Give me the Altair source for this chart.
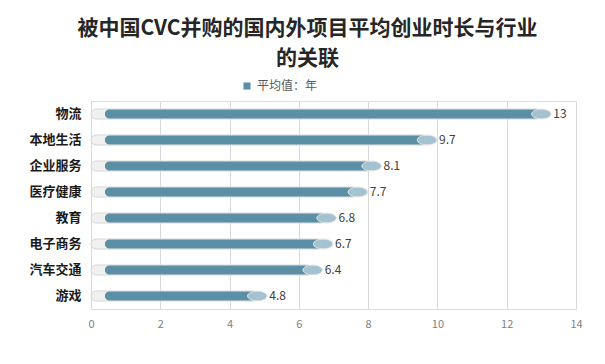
import altair as alt
import pandas as pd

categories = ["物流", "本地生活", "企业服务", "医疗健康", "教育", "电子商务", "汽车交通", "游戏"]
values = [13, 9.7, 8.1, 7.7, 6.8, 6.7, 6.4, 4.8]
series_name = "平均值：年"
x_ticks = [0, 2, 4, 6, 8, 10, 12, 14]

df = pd.DataFrame({"cat": categories, "val": values})
df["series"] = series_name
df["start"] = 0.4
df["zero"] = 0

FONT = "Noto Sans CJK SC"

y_enc = alt.Y("cat:N", sort=categories, title=None,
              axis=alt.Axis(labelFont=FONT, labelFontSize=13, labelFontWeight="bold",
                            labelColor="#1a1a1a", ticks=False, domain=False, labelPadding=10))
x_scale = alt.Scale(domain=[0, 14], nice=False)
x_axis = alt.Axis(values=x_ticks, grid=True, gridColor="#D9D9D9", ticks=False, domain=False,
                  labelColor="#7F7F7F", labelFontSize=11, labelPadding=9, title=None,
                  labelFont=FONT, labelFlush=False)

base = alt.Chart(df)

bg = base.mark_bar(height=10, cornerRadius=5, color="#F0F0F0", stroke="#D6D6D6",
                   strokeWidth=1).encode(
    x=alt.X("zero:Q", scale=x_scale, axis=x_axis), x2="val:Q", y=y_enc)

bar = base.mark_bar(height=9, cornerRadius=4.5).encode(
    x=alt.X("start:Q", scale=x_scale), x2="val:Q", y=y_enc,
    color=alt.Color("series:N", scale=alt.Scale(range=["#5A8FA6"]),
                    legend=alt.Legend(title=None, orient="none", legendX=150, legendY=-21,
                                      symbolType="square", symbolSize=50,
                                      labelFont=FONT, labelFontSize=12, labelColor="#595959",
                                      symbolStrokeWidth=0)))

cap = base.mark_point(shape="M-1,0A1,0.5 0 1,0 1,0A1,0.5 0 1,0 -1,0Z", size=380,
                      filled=True, color="#A4C2D0", stroke="#E4E4E4", strokeWidth=1,
                      opacity=1).encode(
    x=alt.X("val:Q", scale=x_scale), y=y_enc)

labels = base.mark_text(align="left", dx=12, fontSize=12, color="#404040", font=FONT).encode(
    x=alt.X("val:Q", scale=x_scale), y=y_enc, text=alt.Text("val:Q"))

chart = alt.layer(bg, bar, cap, labels).properties(
    width=485, height=208,
    autosize=alt.AutoSizeParams(type="none"),
    padding={"left": 83, "top": 93, "right": 20, "bottom": 48},
    title=alt.TitleParams(text=["被中国CVC并购的国内外项目平均创业时长与行业", "的关联"],
                          font=FONT, fontSize=21, fontWeight="bold", color="#262626",
                          anchor="middle", dx=-26, offset=11, lineHeight=30),
).configure_view(stroke=None).configure(background="white")

chart.save("out.html", embed_options={"renderer": "svg", "actions": False})
